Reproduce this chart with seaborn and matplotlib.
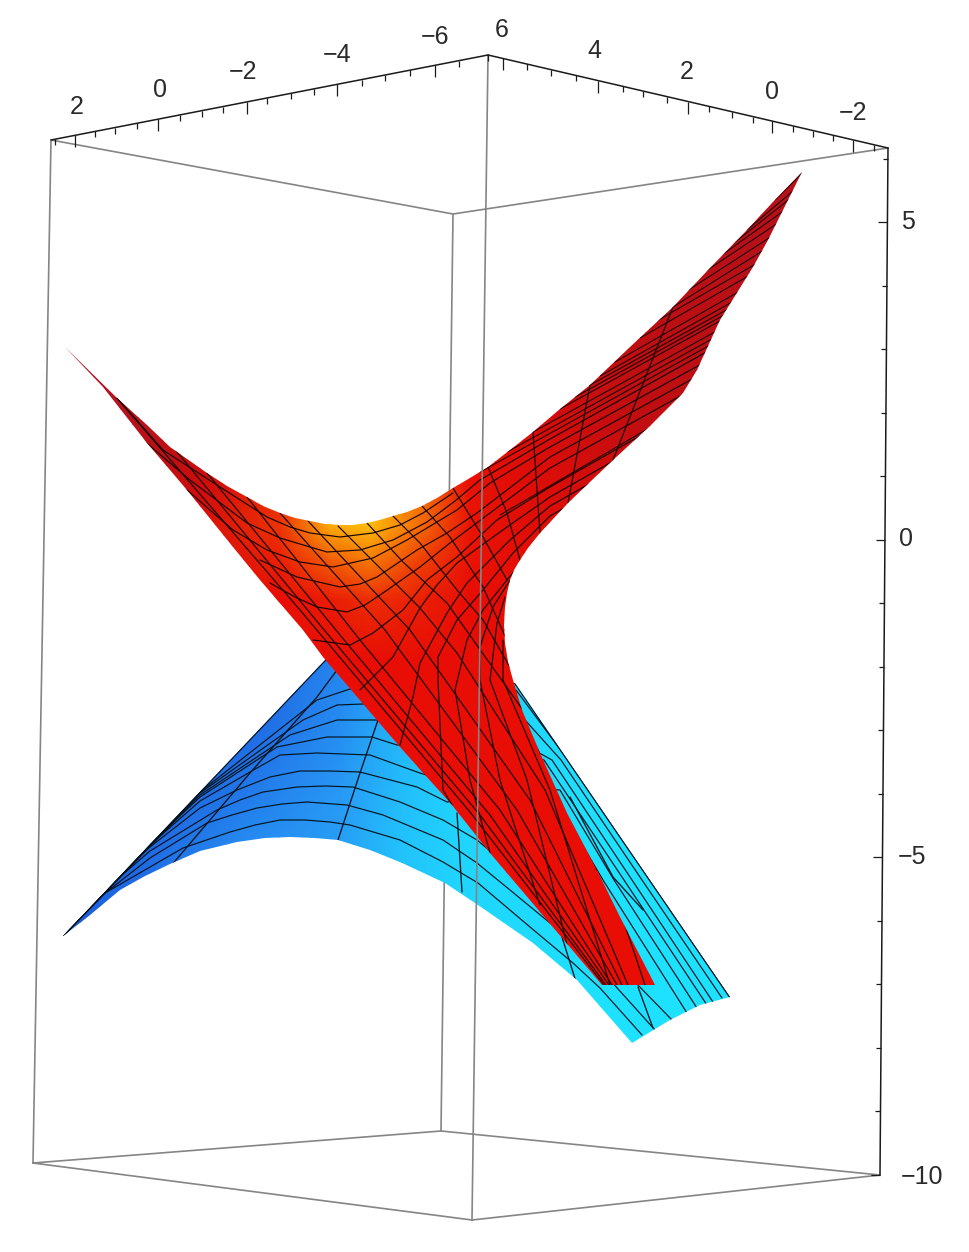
import numpy as np
import pandas as pd
import matplotlib
matplotlib.use("Agg")
import matplotlib.pyplot as plt
from matplotlib.colors import LinearSegmentedColormap
from matplotlib.patches import Polygon
import seaborn as sns

red_edge_x = [65, 117, 147, 170, 207, 227, 247, 263, 280, 295, 310, 325, 340, 353, 367, 380, 393, 407, 422, 437, 453,
              470, 488, 510, 533, 560, 590, 630, 673, 710, 747, 775, 802,
              768, 753, 720, 697, 683, 650, 613, 568, 540, 528, 520, 514, 510, 507, 505, 504, 505, 508, 513, 522, 540,
              567, 597, 620, 655,
              602, 490, 452, 400, 323, 303, 260, 233, 187, 147, 103]
red_edge_y = [347, 398, 425, 447, 473, 486, 497, 506, 513, 518, 521, 524, 525, 525, 523, 520, 516, 512, 506, 498, 488,
              478, 467, 450, 432, 409, 385, 347, 307, 268, 230, 200, 172,
              240, 267, 320, 370, 393, 426, 460, 503, 533, 548, 560, 570, 580, 593, 607, 625, 643, 662, 680, 710, 753,
              813, 870, 917, 985,
              985, 853, 805, 747, 657, 630, 580, 547, 490, 443, 387]

blue_edge_x = [63, 90, 120, 145, 170, 200, 237, 265, 290, 315, 338, 370, 400, 445, 478, 533, 577, 632, 670, 700, 730, 515, 327]
blue_edge_y = [936, 915, 890, 876, 864, 851, 842, 838, 837, 838, 840, 850, 862, 883, 905, 943, 980, 1043, 1020, 1005, 997, 683, 658]

red_shade_x = [50, 120, 200, 280, 330, 370, 420, 470, 540, 650, 810]
red_shade_y = [160, 340, 440, 500, 525, 560, 600, 660, 760, 1000]
red_shade = [
    [.20, .20, .20, .20, .20, .20, .20, .20, .20, .20, .20],
    [.10, .12, .20, .30, .30, .30, .30, .30, .30, .28, .20],
    [.10, .18, .30, .45, .60, .70, .60, .50, .42, .30, .22],
    [.15, .20, .38, .60, .85, .95, .80, .52, .45, .33, .28],
    [.20, .25, .42, .62, .95, 1.0, .78, .52, .45, .33, .28],
    [.30, .30, .42, .56, .74, .82, .66, .52, .48, .40, .40],
    [.40, .40, .42, .50, .55, .60, .56, .50, .48, .45, .45],
    [.50, .50, .50, .50, .50, .50, .50, .50, .50, .50, .50],
    [.50, .50, .50, .50, .50, .50, .50, .50, .50, .50, .50],
    [.50, .50, .50, .50, .50, .50, .50, .50, .50, .50, .50],
]

blue_shade_x = [50, 150, 250, 340, 400, 460, 600, 740]
blue_shade_y = [650, 720, 790, 860, 950, 1050]
blue_shade = [
    [.10, .10, .15, .30, .60, .80, 1.0, 1.0],
    [.10, .10, .15, .35, .65, .85, 1.0, 1.0],
    [.10, .10, .25, .42, .70, .90, 1.0, 1.0],
    [.10, .18, .38, .48, .75, .90, 1.0, 1.0],
    [.05, .18, .38, .50, .75, .90, 1.0, 1.0],
    [.05, .18, .38, .50, .75, .90, 1.0, 1.0],
]

# mesh lines of the lower sheet
blue_rows = [
    [(63, 936), (105, 893), (150, 867), (183, 848), (230, 832), (255, 825), (280, 820), (305, 820), (330, 822), (350, 825), (400, 840), (443, 862), (478, 883), (530, 927), (573, 963), (600, 988), (642, 1035)],
    [(63, 936), (100, 897), (150, 858), (207, 823), (232, 815), (257, 808), (282, 804), (307, 802), (347, 805), (383, 815), (443, 840), (477, 863), (510, 890), (567, 937), (610, 980), (655, 1030)],
    [(63, 936), (100, 894), (150, 851), (217, 810), (240, 800), (263, 792), (297, 787), (325, 786), (353, 787), (400, 802), (443, 820), (477, 840), (533, 887), (597, 943), (672, 1020)],
    [(63, 936), (100, 892), (150, 847), (200, 808), (237, 790), (270, 777), (300, 771), (330, 771), (360, 772), (417, 787), (447, 802), (550, 790), (603, 880), (687, 1013)],
    [(63, 936), (100, 891), (150, 845), (200, 801), (257, 768), (280, 755), (317, 753), (370, 755), (417, 772), (450, 783), (560, 790), (614, 880), (697, 1008)],
    [(63, 936), (100, 890), (150, 844), (200, 797), (277, 747), (327, 737), (372, 737), (397, 745), (480, 745), (544, 760), (624, 880), (707, 1005)],
    [(63, 936), (200, 795), (290, 735), (337, 720), (378, 720), (470, 715), (552, 760), (632, 880), (713, 1002)],
    [(63, 936), (200, 793), (303, 720), (337, 705), (363, 704), (480, 700), (525, 720), (561, 760), (642, 880), (722, 998)],
    [(63, 936), (200, 792), (317, 700), (350, 689), (516, 690), (568, 760), (650, 880), (730, 997)],
]
blue_edge_lines = [
    [(63, 936), (327, 658)],
    [(515, 683), (730, 997)],
]
blue_cross = [
    [(170, 867), (250, 773), (317, 697), (337, 670)],
    [(338, 840), (360, 773), (378, 720), (386, 695)],
    [(462, 892), (457, 813)],
    [(577, 985), (562, 937)],
    [(653, 1028), (638, 987)],
    [(570, 797), (613, 877), (643, 910)],
]

# mesh lines of the upper sheet
red_rows = [
    [(117, 398), (163, 450), (220, 487), (267, 517), (290, 527), (310, 533), (340, 537), (373, 533), (400, 525), (423, 513), (453, 493)],
    [(143, 440), (190, 480), (247, 523), (280, 538), (310, 547), (327, 552), (360, 550), (393, 540), (427, 522), (455, 501), (480, 480), (550, 439), (800, 300)],
    [(187, 490), (233, 530), (267, 550), (300, 562), (333, 567), (373, 558), (407, 540), (457, 510), (490, 483), (550, 447), (800, 310)],
    [(260, 560), (297, 577), (340, 587), (360, 584), (377, 577), (417, 550), (447, 533), (477, 513), (550, 457), (800, 320)],
    [(270, 583), (295, 597), (317, 607), (347, 612), (365, 605), (383, 593), (420, 567), (450, 543), (490, 513), (550, 468), (800, 330)],
    [(313, 640), (350, 645), (373, 633), (403, 610), (427, 580), (457, 557), (497, 520), (550, 487), (800, 345)],
    [(360, 690), (393, 657), (420, 608), (437, 585), (457, 563), (507, 527), (550, 497), (800, 355)],
    [(400, 745), (413, 697), (420, 663), (447, 613), (467, 583), (510, 540), (550, 506), (800, 365)],
    [(452, 805), (443, 790), (438, 680), (438, 657), (457, 620), (483, 590), (513, 553), (550, 516), (800, 375)],
    [(490, 853), (470, 780), (455, 690), (467, 640), (483, 610), (507, 580), (550, 527)],
    [(540, 905), (500, 780), (480, 680), (480, 647), (493, 607), (510, 580)],
    [(567, 945), (527, 780), (490, 680), (497, 623), (505, 597)],
    [(610, 985), (550, 790), (503, 680), (503, 640)],
]
red_cols = [
    [(117, 398), (300, 610), (470, 812), (604, 985)],
    [(173, 447), (320, 625), (480, 815), (606, 985)],
    [(207, 473), (340, 635), (490, 815), (609, 985)],
    [(247, 497), (360, 640), (500, 810), (612, 985)],
    [(280, 513), (385, 630), (517, 810), (617, 985)],
    [(308, 521), (410, 630), (530, 800), (622, 985)],
    [(338, 526), (420, 608), (457, 653), (545, 790), (628, 985)],
    [(367, 523), (403, 562), (447, 603), (530, 720), (600, 850), (645, 985)],
    [(393, 516), (420, 543), (457, 590), (483, 620), (540, 720), (597, 870)],
    [(422, 506), (450, 537), (483, 587), (510, 647), (540, 753)],
    [(453, 488), (483, 537), (507, 580)],
    [(488, 467), (507, 513), (520, 560)],
    [(533, 432), (540, 533)],
    [(590, 385), (568, 503)],
    [(673, 307), (613, 460)],
]
arm_rows = [
    [(480, 472), (770, 312)],
    [(507, 452), (770, 307)],
    [(533, 432), (793, 289)],
    [(560, 409), (820, 266)],
    [(575, 397), (835, 254)],
    [(590, 385), (850, 242)],
    [(600, 376), (850, 236)],
    [(615, 362), (830, 240)],
    [(640, 338), (820, 235)],
    [(655, 322), (820, 227)],
    [(673, 307), (820, 215)],
    [(687, 291), (820, 205)],
    [(700, 275), (820, 195)],
    [(712, 262), (820, 185)],
    [(725, 250), (820, 175)],
    [(747, 230), (820, 168)],
    [(775, 200), (820, 155)],
    [(500, 515), (800, 340)],
]

# axes frame
top_left_x, top_left_y = [51, 488], [140, 55]
top_right_x, top_right_y = [488, 888], [55, 148]
right_x, right_y = [888, 880], [148, 1175]
back_lines = [
    [(51, 140), (453, 214), (888, 148)],
    [(51, 140), (33, 1163), (441, 1131), (880, 1175), (472, 1220), (33, 1163)],
    [(453, 214), (441, 1131)],
]
front_line = [(488, 55), (472, 1220)]

left_minor = [55, 95, 115, 137, 180, 202, 223, 267, 291, 314, 362, 385, 410, 459, 488]
left_major = [75, 158, 247, 337, 435]
right_minor = [527, 551, 576, 623, 643, 667, 709, 732, 753, 793, 813, 833, 874]
right_major = [503, 598, 688, 772, 853]
z_pixels = [223, 539, 857, 1175]
z_values = [5, 0, -5, -10]
z_minor = [6, 4, 3, 2, 1, -1, -2, -3, -4, -6, -7, -8, -9]

top_labels = ["2", "0", "\u22122", "\u22124", "\u22126", "6", "4", "2", "0", "\u22122"]
top_label_x = [77, 160, 243, 337, 435, 502, 594, 687, 772, 853]
top_label_y = [107, 90, 72, 55, 37, 30, 51, 72, 92, 113]
z_labels = ["5", "0", "\u22125", "\u221210"]
z_label_x = [908, 906, 912, 922]
z_label_y = [222, 539, 857, 1177]


def mesh_frame(lines):
    parts = []
    for n, pts in enumerate(lines):
        arr = np.array(pts, dtype=float)
        parts.append(pd.DataFrame({"line": n, "order": range(len(arr)), "x": arr[:, 0], "y": arr[:, 1]}))
    return pd.concat(parts, ignore_index=True)


def draw_lines(ax, lines, color, width, zorder, clip=None):
    before = len(ax.lines)
    sns.lineplot(data=mesh_frame(lines), x="x", y="y", units="line", estimator=None, sort=False,
                 color=color, linewidth=width, legend=False, ax=ax)
    for line in ax.lines[before:]:
        line.set_zorder(zorder)
        line.set_solid_joinstyle("round")
        if clip is not None:
            line.set_clip_path(clip)


def draw_sheet(ax, edge_x, edge_y, shade_x, shade_y, shade, cmap, zorder):
    outline = Polygon(np.column_stack([edge_x, edge_y]), closed=True, facecolor="none", edgecolor="none")
    ax.add_patch(outline)
    grid_x, grid_y = np.meshgrid(shade_x, shade_y)
    mesh = ax.pcolormesh(grid_x, grid_y, np.array(shade), shading="gouraud", cmap=cmap, vmin=0, vmax=1, zorder=zorder)
    mesh.set_clip_path(outline)
    return outline


sns.set_theme(style="white")
plt.rcParams["font.family"] = ["Liberation Sans", "DejaVu Sans"]

red_cmap = LinearSegmentedColormap.from_list("red_sheet", [
    (0.0, (175 / 255, 25 / 255, 50 / 255)), (0.25, (185 / 255, 15 / 255, 20 / 255)),
    (0.5, (232 / 255, 12 / 255, 5 / 255)), (0.72, (240 / 255, 85 / 255, 5 / 255)),
    (1.0, (255 / 255, 190 / 255, 10 / 255))])
blue_cmap = LinearSegmentedColormap.from_list("blue_sheet", [
    (0.0, (25 / 255, 75 / 255, 215 / 255)), (0.4, (40 / 255, 150 / 255, 245 / 255)),
    (1.0, (30 / 255, 225 / 255, 255 / 255))])

fig = plt.figure(figsize=(9.7, 12.52), dpi=100, facecolor="white")
ax = fig.add_axes([0, 0, 1, 1])

# frame behind the surfaces
draw_lines(ax, back_lines, "#858585", 1.2, 1)

blue_outline = draw_sheet(ax, blue_edge_x, blue_edge_y, blue_shade_x, blue_shade_y, blue_shade, blue_cmap, 2)
draw_lines(ax, blue_rows, "#04141e", 0.85, 3, clip=blue_outline)
draw_lines(ax, blue_cross, "#04141e", 0.95, 3, clip=blue_outline)
draw_lines(ax, blue_edge_lines, "#04101a", 1.6, 3, clip=blue_outline)

red_outline = draw_sheet(ax, red_edge_x, red_edge_y, red_shade_x, red_shade_y, red_shade, red_cmap, 4)
draw_lines(ax, red_rows, "#180404", 0.85, 5, clip=red_outline)
draw_lines(ax, red_cols, "#180404", 0.85, 5, clip=red_outline)
draw_lines(ax, arm_rows, "#180404", 0.75, 5, clip=red_outline)

draw_lines(ax, [front_line], "#858585", 1.2, 6)

# black axes with ticks
axis_lines = [list(zip(top_left_x, top_left_y)), list(zip(top_right_x, top_right_y)), list(zip(right_x, right_y))]
draw_lines(ax, axis_lines, "#1a1a1a", 1.1, 7)

for xs, length in [(left_minor, 6), (left_major, 12)]:
    tops = np.interp(xs, top_left_x, top_left_y)
    ax.vlines(xs, tops, tops + length, color="#1a1a1a", linewidth=0.9, zorder=7)
for xs, length in [(right_minor, 6), (right_major, 12)]:
    tops = np.interp(xs, top_right_x, top_right_y)
    ax.vlines(xs, tops, tops + length, color="#1a1a1a", linewidth=0.9, zorder=7)

z_scale = np.polyfit(z_values, z_pixels, 1)
for zs, length in [(z_minor, 5), (z_values, 9)]:
    ys = np.polyval(z_scale, zs)
    xs = np.interp(ys, right_y, right_x)
    ax.hlines(ys, xs - length, xs, color="#1a1a1a", linewidth=0.9, zorder=7)

for s, x, y in zip(top_labels, top_label_x, top_label_y):
    ax.text(x, y, s, ha="center", va="center", fontsize=18, color="#2a2a2a")
for s, x, y in zip(z_labels, z_label_x, z_label_y):
    ax.text(x, y, s, ha="center", va="center", fontsize=18, color="#2a2a2a")

ax.set_xlim(0, 970)
ax.set_ylim(1252, 0)
ax.set_axis_off()

fig.savefig("out.png", dpi=100)
